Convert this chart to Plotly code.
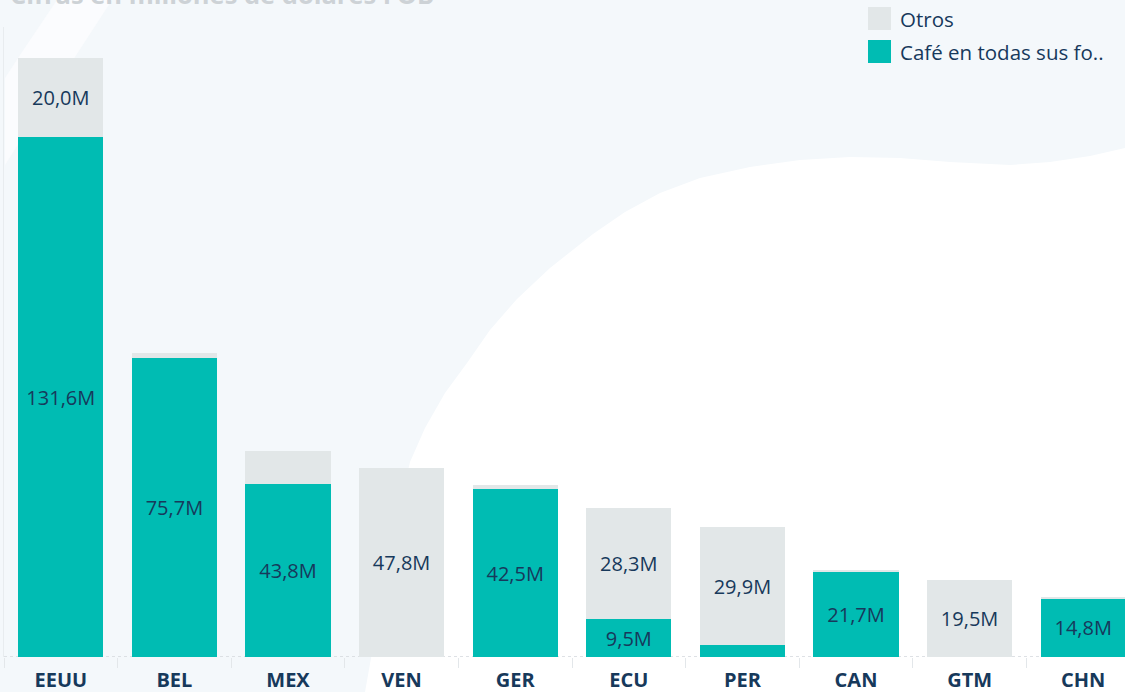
import plotly.graph_objects as go

# ---- data ----
categories = ["EEUU", "BEL", "MEX", "VEN", "GER", "ECU", "PER", "CAN", "GTM", "CHN"]
cafe = [131.6, 75.7, 43.8, 0.0, 42.5, 9.5, 3.0, 21.7, 0.0, 14.8]
otros = [20.0, 1.3, 8.4, 47.8, 1.0, 28.3, 29.9, 0.4, 19.5, 0.4]
series_names = ["Café en todas sus fo..", "Otros"]
title_text = "Cifras en millones de dólares FOB"

TEAL = "#00bcb3"
GRAY = "#e2e7e8"
NAVY = "#17395b"
BG = "#f4f8fb"
FONT = "Open Sans"

W, H = 1125, 692
ML, MR, MT, MB = 4, 0, 27, 35
PW, PH = W - ML - MR, H - MT - MB


def fmt(v):
    return ("%.1fM" % v).replace(".", ",")


def labels(vals, thr=9.0):
    return [fmt(v) if v >= thr else "" for v in vals]


def px(x):
    return (x - ML) / PW


def py(y):
    return (H - MB - y) / PH


fig = go.Figure()
fig.add_trace(go.Bar(
    x=categories, y=cafe, name=series_names[0], marker_color=TEAL,
    marker_line_width=0, text=labels(cafe), textposition="inside",
    insidetextanchor="middle", textangle=0,
    textfont=dict(family=FONT, size=20, color=NAVY), showlegend=False,
))
fig.add_trace(go.Bar(
    x=categories, y=otros, name=series_names[1], marker_color=GRAY,
    marker_line_width=0, text=labels(otros), textposition="inside",
    insidetextanchor="middle", textangle=0,
    textfont=dict(family=FONT, size=20, color=NAVY), showlegend=False,
))

# decorative background shapes (pixel -> paper)
white_pts = [(365, 692), (376, 630), (390, 560), (400, 505), (410, 462), (425, 428),
             (445, 393), (467, 363), (490, 330), (517, 299), (550, 268), (593, 234),
             (625, 212), (660, 193), (700, 178), (750, 167), (800, 160), (850, 157),
             (900, 158), (950, 162), (1010, 165), (1050, 162), (1090, 156), (1125, 148),
             (1125, 692)]
path = "M " + " L ".join("%f,%f" % (px(a), py(b)) for a, b in white_pts) + " Z"
stripe_pts = [(57, 0), (112, 0), (75, 57), (40, 110), (5, 165), (5, 78), (22, 52)]
path2 = "M " + " L ".join("%f,%f" % (px(a), py(b)) for a, b in stripe_pts) + " Z"

shapes = [
    dict(type="path", path=path, xref="paper", yref="paper", fillcolor="#ffffff",
         line_width=0, layer="below"),
    dict(type="path", path=path2, xref="paper", yref="paper", fillcolor="#fbfcfe",
         line_width=0, layer="below"),
    dict(type="line", xref="paper", yref="y", x0=0, x1=1, y0=0, y1=0,
         line=dict(color="#d3d8dd", width=1.5, dash="dot"), layer="below"),
    # legend squares
    dict(type="rect", xref="paper", yref="paper", x0=px(868), x1=px(891), y0=py(30), y1=py(7),
         fillcolor=GRAY, line_width=0),
    dict(type="rect", xref="paper", yref="paper", x0=px(868), x1=px(891), y0=py(63), y1=py(40),
         fillcolor=TEAL, line_width=0),
]

annotations = [
    dict(text=series_names[1], xref="paper", yref="paper", x=px(898), y=py(18.5),
         xanchor="left", yanchor="middle", showarrow=False,
         font=dict(family=FONT, size=20.5, color=NAVY)),
    dict(text=series_names[0], xref="paper", yref="paper", x=px(898), y=py(52),
         xanchor="left", yanchor="middle", showarrow=False,
         font=dict(family=FONT, size=20.5, color=NAVY)),
    dict(text="<b>" + title_text + "</b>", xref="paper", yref="paper", x=px(8), y=py(-6),
         xanchor="left", yanchor="middle", showarrow=False,
         font=dict(family=FONT, size=25.5, color="#cdd2d6")),
]

fig.update_layout(
    barmode="stack", bargap=0.25,
    width=W, height=H,
    margin=dict(l=ML, r=MR, t=MT, b=MB, pad=0),
    paper_bgcolor=BG, plot_bgcolor="rgba(0,0,0,0)",
    showlegend=False,
    shapes=shapes, annotations=annotations,
    font=dict(family=FONT, color=NAVY),
    uniformtext=dict(mode=False),
)
fig.update_xaxes(
    range=[-0.5, -0.5 + PW / 113.6], showgrid=False, zeroline=False, showline=False,
    ticks="outside", tickson="boundaries", ticklen=10, tickcolor="#e3e7ea", tickwidth=1,
    ticklabelstandoff=9,
    tickfont=dict(family=FONT, size=20, color=NAVY, weight="bold"),
)
fig.update_yaxes(
    range=[0, PH / 3.951], showgrid=False, zeroline=False, showticklabels=False,
    showline=True, linecolor="#e8ecef", linewidth=1, ticks="",
)
fig.update_traces(cliponaxis=True, constraintext="none")

fig.write_html(
    "out.html",
    config={"displayModeBar": False},
    post_script="document.body.style.margin='0';document.body.style.overflow='hidden';",
)
